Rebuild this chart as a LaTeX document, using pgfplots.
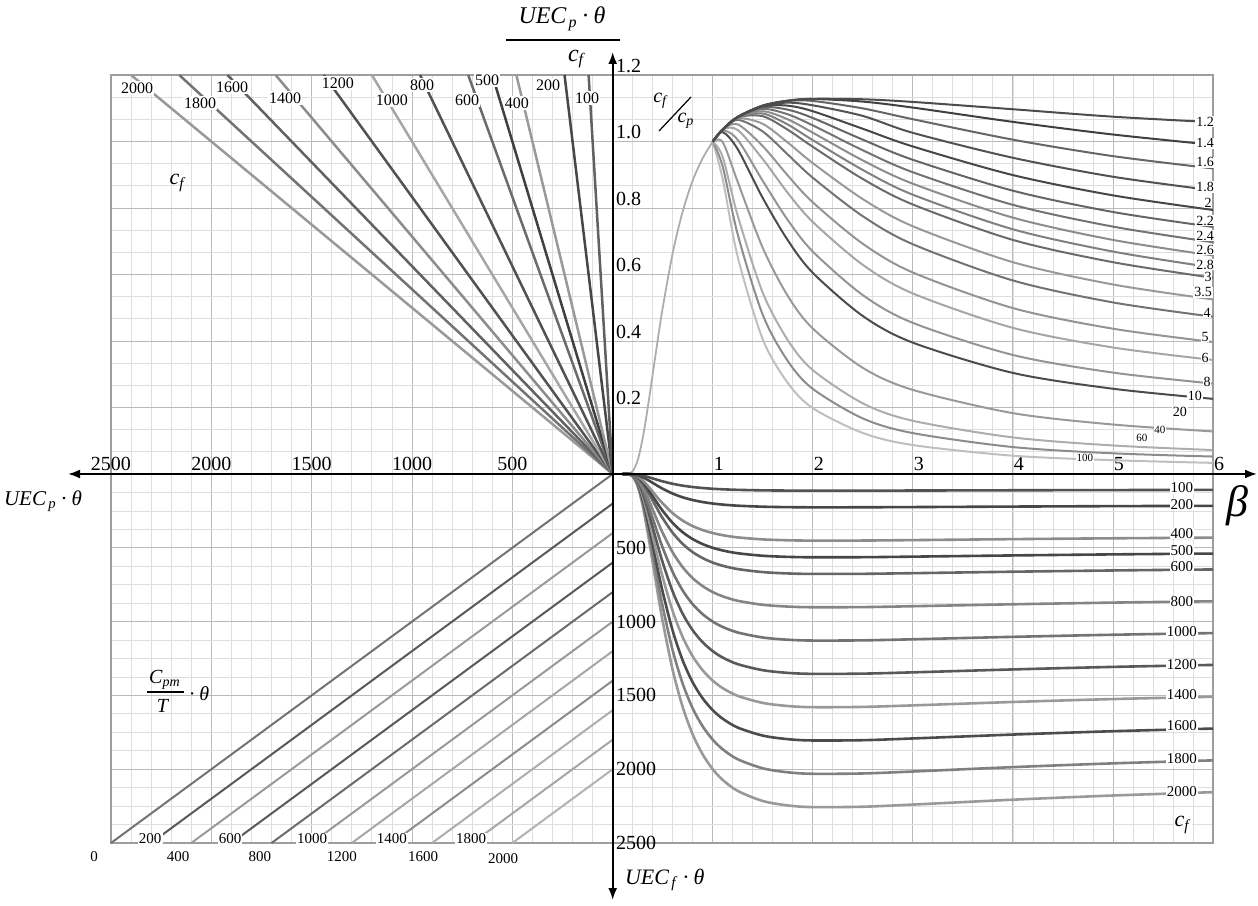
\documentclass[border=0pt]{standalone}
\usepackage{fontspec}
\setmainfont{Liberation Serif}
\usepackage{pgfplots}
\usepackage{pgfplotstable}
\pgfplotsset{compat=1.18}
\usetikzlibrary{arrows.meta}

\pgfplotsset{
 quad/.style={
  scale only axis, clip=false,
  axis line style={draw=black!38, line width=0.9pt},
  grid=both,
  major grid style={draw=black!27, line width=0.45pt},
  minor grid style={draw=black!13, line width=0.4pt},
  major tick length=0pt, minor tick length=0pt,
  ticklabel style={font=\fontsize{10}{10}\selectfont},
  /pgf/number format/assume math mode=true,
  /pgf/number format/1000 sep={},
 },
 trc/.style={smooth, no marks, line width=1pt, draw=black!#1},
 brc/.style={smooth, no marks, line width=1.3pt, draw=black!#1},
 tll/.style={no marks, line width=1.25pt, draw=black!#1},
 bll/.style={no marks, line width=1pt, draw=black!#1},
}
\tikzset{
 lt/.style={fill=white, inner sep=0.4pt, font=\fontsize{7}{7}\selectfont},
 ls/.style={fill=white, inner sep=0.3pt, font=\fontsize{5.5}{5.5}\selectfont},
 lb/.style={fill=white, inner sep=0.3pt, font=\fontsize{7.5}{7.5}\selectfont},
 ll/.style={fill=white, inner sep=0.6pt, font=\fontsize{8}{8}\selectfont},
 lbl/.style={fill=white, inner sep=0.6pt, font=\fontsize{7.5}{7.5}\selectfont},
}
\newcommand{\UEC}[1]{\textit{UEC}\kern1pt\textsubscript{\textit{#1}}\kern2pt·\kern2pt\textit{θ}}

% c_f/c_p = r curves, UEC_p theta / c_f versus beta
\pgfplotstableread{
b    r12    r14    r16    r18    r20    r22    r24    r26    r28    r30    r35    r40   r50    r60    r80    r100   r200   r400   r600   r1000
1    1      1      1      1      1      1      1      1      1      1      1      1     1      1      1      1      1      1      1      1
1.1  1.036  1.036  1.036  1.036  1.036  1.036  1.036  1.036  1.036  1.036  1.036  1.036 1.036  1.036  1.033  1.028  0.998  0.953  0.924  0.886
1.25 1.0737 1.0737 1.0737 1.0737 1.0736 1.0736 1.0735 1.0735 1.0733 1.0727 1.0699 1.065 1.0516 1.0345 1.0049 0.9767 0.878  0.7765 0.720  0.6525
1.5  1.1077 1.1077 1.1077 1.1074 1.106  1.103  1.098  1.091  1.084  1.076  1.053  1.030 0.986  0.947  0.8815 0.830  0.680  0.545  0.4785 0.405
1.75 1.1228 1.1228 1.1216 1.1168 1.1078 1.0957 1.0817 1.0666 1.051  1.0353 0.9968 0.9609 0.8978 0.8453 0.7637 0.703 0.5354 0.4026 0.3397 0.2738
2    1.1284 1.1278 1.1219 1.1088 1.091  1.0707 1.0485 1.0265 1.004  0.984  0.935  0.891 0.817  0.758  0.669  0.605  0.4375 0.3125 0.256  0.198
2.5  1.127  1.120  1.0995 1.0769 1.0382 1.0055 0.9736 0.9431 0.9143 0.8872 0.8267 0.7752 0.6924 0.629 0.538  0.4751 0.3192 0.2125 0.1671 0.1233
3    1.119  1.102  1.067  1.026  0.985  0.945  0.9075 0.873  0.840  0.8105 0.745  0.691 0.606  0.543  0.4545 0.395  0.253  0.160  0.123  0.087
4    1.097  1.059  1.0055 0.951  0.899  0.852  0.8095 0.771  0.736  0.704  0.637  0.582 0.499  0.4395 0.358  0.304  0.183  0.110  0.081  0.055
5    1.0746 1.021  0.956  0.894  0.838  0.788  0.744  0.704  0.669  0.637  0.570  0.516 0.437  0.3805 0.305  0.2564 0.1488 0.0858 0.0622 0.0414
6    1.058  0.990  0.919  0.853  0.794  0.743  0.697  0.657  0.621  0.590  0.525  0.473 0.397  0.343  0.272  0.226  0.128  0.072  0.0525 0.0335
}\trdata

% UEC_f theta versus beta for c_f
\pgfplotstableread{
b    c100   c200   c400  c500  c600  c800  c1000  c1200  c1400  c1600  c1800  c2000
0.1  0      0      0     0     0     0     0      0      0      0      0      0
0.15 0.04   0.08   0.15  0.19  0.23  0.31  0.39   0.46   0.54   0.62   0.69   0.77
0.2  0.83   1.67   3.33  4.17  5.0   6.66  8.33   10.0   11.7   13.3   15.0   16.7
0.25 4.17   8.33   16.67 20.8  25.0  33.3  41.7   50.0   58.3   66.7   75.0   83.3
0.3  10.8   21.6   43.2  54.0  64.8  86.4  108    129.6  151.2  172.8  194.4  216
0.35 19.89  39.78  79.56 99.45 119.3 159.1 198.9  238.7  278.5  318.2  358.0  397.8
0.4  30.09  60.18  120.4 150.5 180.5 240.7 300.9  361.1  421.3  481.4  541.6  601.8
0.45 40.34  80.68  161.4 201.7 242.0 322.7 403.4  484.1  564.8  645.4  726.1  806.8
0.5  50     100    200   250   300   400   500    600    700    800    900    1000
0.6  66.46  132.9  265.8 332.3 398.8 531.7 664.6  797.5  930.4  1063.4 1196.3 1329.2
0.7  78.98  157.96 315.9 394.9 473.9 631.8 789.8  947.8  1105.7 1263.7 1421.6 1579.6
0.8  88.26  176.5  353.0 441.3 529.6 706.1 882.6  1059.1 1235.6 1412.2 1588.7 1765.2
0.9  95.03  190.1  380.1 475.2 570.2 760.2 950.3  1140.4 1330.4 1520.5 1710.5 1900.6
1    100    200    400   500   600   800   1000   1200   1400   1600   1800   2000
1.1  103.64 207.3  414.6 518.2 621.8 829.1 1036.4 1243.7 1451.0 1658.2 1865.5 2072.8
1.25 107.37 214.7  429.5 536.9 644.2 859.0 1073.7 1288.4 1503.2 1717.9 1932.7 2147.4
1.5  110.77 221.5  443.1 553.9 664.6 886.2 1107.7 1329.2 1550.8 1772.3 1993.9 2215.4
1.75 112.28 224.6  449.1 561.4 673.7 898.2 1122.8 1347.4 1571.9 1796.5 2021.0 2245.6
2    112.84 225.7  451.4 564.2 677.0 902.7 1128.4 1354.1 1579.8 1805.4 2031.1 2256.8
2.5  112.71 225.4  450.8 563.6 676.3 901.7 1127.1 1352.5 1577.9 1803.4 2028.8 2254.2
3    111.98 224.0  447.9 559.9 671.9 895.8 1119.8 1343.8 1567.7 1791.7 2015.6 2239.6
4    110.33 220.7  441.3 551.7 662.0 882.6 1103.3 1324.0 1544.6 1765.3 1985.9 2206.6
5    108.91 217.8  435.6 544.6 653.5 871.3 1089.1 1306.9 1524.7 1742.6 1960.4 2178.2
6    107.79 215.6  431.2 539.0 646.7 862.3 1077.9 1293.5 1509.1 1724.6 1940.2 2155.8
}\brdata

\begin{document}
\begin{tikzpicture}
\path[use as bounding box] (0,0) rectangle (629pt,452.5pt);

% ---------------- top right ----------------
\begin{axis}[quad, at={(306.35pt,215.5pt)}, anchor=origin,
  width=300.15pt, height=199.5pt,
  xmin=0, xmax=6, ymin=0, ymax=1.2,
  xtick={1,2,3,4,5,6}, minor xtick={0.2,0.4,...,5.9},
  ytick={0.2,0.4,0.6,0.8,1.0,1.2}, yticklabels={0.2,0.4,0.6,0.8,1.0,1.2},
  minor ytick={0.0667,0.1333,0.2667,0.3333,0.4667,0.5333,0.6667,0.7333,0.8667,0.9333,1.0667,1.1333},
  xticklabel style={anchor=south, xshift=3pt, inner sep=1.5pt},
  yticklabel style={anchor=south west, inner sep=1pt, xshift=0.5pt},
]
\addplot[smooth, no marks, line width=0.9pt, draw=black!32] coordinates {
 (0,0) (0.1,0) (0.15,0.0004) (0.2,0.0083) (0.25,0.0417) (0.3,0.108) (0.35,0.199)
 (0.4,0.301) (0.45,0.403) (0.5,0.5) (0.6,0.665) (0.7,0.790) (0.8,0.883) (0.9,0.950) (1,1)};
\addplot[trc=25] table[x=b,y=r1000] {\trdata};
\addplot[trc=45] table[x=b,y=r600] {\trdata};
\addplot[trc=32] table[x=b,y=r400] {\trdata};
\addplot[trc=40] table[x=b,y=r200] {\trdata};
\addplot[trc=70] table[x=b,y=r100] {\trdata};
\addplot[trc=42] table[x=b,y=r80] {\trdata};
\addplot[trc=35] table[x=b,y=r60] {\trdata};
\addplot[trc=42] table[x=b,y=r50] {\trdata};
\addplot[trc=55] table[x=b,y=r40] {\trdata};
\addplot[trc=40] table[x=b,y=r35] {\trdata};
\addplot[trc=58] table[x=b,y=r30] {\trdata};
\addplot[trc=50] table[x=b,y=r28] {\trdata};
\addplot[trc=45] table[x=b,y=r26] {\trdata};
\addplot[trc=55] table[x=b,y=r24] {\trdata};
\addplot[trc=60] table[x=b,y=r22] {\trdata};
\addplot[trc=72] table[x=b,y=r20] {\trdata};
\addplot[trc=68] table[x=b,y=r18] {\trdata};
\addplot[trc=60] table[x=b,y=r16] {\trdata};
\addplot[trc=75] table[x=b,y=r14] {\trdata};
\addplot[trc=70] table[x=b,y=r12] {\trdata};
\node[lt] at (axis cs:5.92,1.059) {1.2};
\node[lt] at (axis cs:5.92,0.995) {1.4};
\node[lt] at (axis cs:5.92,0.938) {1.6};
\node[lt] at (axis cs:5.92,0.863) {1.8};
\node[lt] at (axis cs:5.95,0.815) {2};
\node[lt] at (axis cs:5.92,0.761) {2.2};
\node[lt] at (axis cs:5.92,0.716) {2.4};
\node[lt] at (axis cs:5.92,0.674) {2.6};
\node[lt] at (axis cs:5.92,0.629) {2.8};
\node[lt] at (axis cs:5.95,0.592) {3};
\node[lt] at (axis cs:5.90,0.547) {3.5};
\node[lt] at (axis cs:5.94,0.484) {4};
\node[lt] at (axis cs:5.92,0.412) {5};
\node[lt] at (axis cs:5.92,0.349) {6};
\node[lt] at (axis cs:5.94,0.277) {8};
\node[lt] at (axis cs:5.82,0.235) {10};
\node[lt] at (axis cs:5.67,0.186) {20};
\node[ls] at (axis cs:5.47,0.132) {40};
\node[ls] at (axis cs:5.29,0.108) {60};
\node[ls] at (axis cs:4.72,0.048) {100};
\end{axis}

% ---------------- top left ----------------
\begin{axis}[quad, at={(306.35pt,215.5pt)}, anchor=origin,
  width=250.85pt, height=199.5pt,
  xmin=0, xmax=2500, x dir=reverse, ymin=0, ymax=1.2,
  xtick={500,1000,1500,2000,2500}, minor xtick={100,200,...,2400},
  ytick={0.2,0.4,0.6,0.8,1.0,1.2}, yticklabels={},
  minor ytick={0.0667,0.1333,0.2667,0.3333,0.4667,0.5333,0.6667,0.7333,0.8667,0.9333,1.0667,1.1333},
  xticklabel style={anchor=south, inner sep=1.5pt},
]
\addplot[tll=40] coordinates {(0,0) (2400,1.2)};
\addplot[tll=55] coordinates {(0,0) (2160,1.2)};
\addplot[tll=62] coordinates {(0,0) (1920,1.2)};
\addplot[tll=45] coordinates {(0,0) (1680,1.2)};
\addplot[tll=68] coordinates {(0,0) (1440,1.2)};
\addplot[tll=35] coordinates {(0,0) (1200,1.2)};
\addplot[tll=68] coordinates {(0,0) (960,1.2)};
\addplot[tll=58] coordinates {(0,0) (720,1.2)};
\addplot[tll=75] coordinates {(0,0) (600,1.2)};
\addplot[tll=40] coordinates {(0,0) (480,1.2)};
\addplot[tll=72] coordinates {(0,0) (240,1.2)};
\addplot[tll=62] coordinates {(0,0) (120,1.2)};
\node[ll] at (axis cs:2370,1.161) {2000};
\node[ll] at (axis cs:2056,1.116) {1800};
\node[ll] at (axis cs:1896,1.164) {1600};
\node[ll] at (axis cs:1632,1.131) {1400};
\node[ll] at (axis cs:1369,1.176) {1200};
\node[ll] at (axis cs:1100,1.125) {1000};
\node[ll] at (axis cs:950,1.170) {800};
\node[ll] at (axis cs:726,1.125) {600};
\node[ll] at (axis cs:626,1.185) {500};
\node[ll] at (axis cs:477,1.116) {400};
\node[ll] at (axis cs:322,1.170) {200};
\node[ll] at (axis cs:128,1.131) {100};
\end{axis}

% ---------------- bottom right ----------------
\begin{axis}[quad, at={(306.35pt,215.5pt)}, anchor=origin,
  width=300.15pt, height=184.5pt,
  xmin=0, xmax=6, ymin=0, ymax=2500, y dir=reverse,
  xtick={1,2,3,4,5,6}, xticklabels={}, minor xtick={0.2,0.4,...,5.9},
  ytick={500,1000,1500,2000,2500}, minor ytick={125,250,...,2400},
  yticklabel style={anchor=west, inner sep=1pt, xshift=0.5pt},
]
\addplot[brc=40] table[x=b,y=c2000] {\brdata};
\addplot[brc=50] table[x=b,y=c1800] {\brdata};
\addplot[brc=70] table[x=b,y=c1600] {\brdata};
\addplot[brc=40] table[x=b,y=c1400] {\brdata};
\addplot[brc=65] table[x=b,y=c1200] {\brdata};
\addplot[brc=55] table[x=b,y=c1000] {\brdata};
\addplot[brc=48] table[x=b,y=c800] {\brdata};
\addplot[brc=60] table[x=b,y=c600] {\brdata};
\addplot[brc=72] table[x=b,y=c500] {\brdata};
\addplot[brc=45] table[x=b,y=c400] {\brdata};
\addplot[brc=72] table[x=b,y=c200] {\brdata};
\addplot[brc=68] table[x=b,y=c100] {\brdata};
\node[lb] at (axis cs:5.69,95) {100};
\node[lb] at (axis cs:5.69,205) {200};
\node[lb] at (axis cs:5.69,405) {400};
\node[lb] at (axis cs:5.69,522) {500};
\node[lb] at (axis cs:5.69,630) {600};
\node[lb] at (axis cs:5.69,862) {800};
\node[lb] at (axis cs:5.69,1065) {1000};
\node[lb] at (axis cs:5.69,1290) {1200};
\node[lb] at (axis cs:5.69,1495) {1400};
\node[lb] at (axis cs:5.69,1705) {1600};
\node[lb] at (axis cs:5.69,1930) {1800};
\node[lb] at (axis cs:5.69,2150) {2000};
\node[font=\fontsize{11}{11}\selectfont, fill=white, inner sep=0.5pt] at (axis cs:5.70,2378) {\textit{c}\textsubscript{\textit{f}}};
\end{axis}

% ---------------- bottom left ----------------
\begin{axis}[quad, at={(306.35pt,215.5pt)}, anchor=origin,
  width=250.85pt, height=184.5pt,
  xmin=0, xmax=2500, x dir=reverse, ymin=0, ymax=2500, y dir=reverse,
  xtick={500,1000,1500,2000,2500}, xticklabels={}, minor xtick={100,200,...,2400},
  ytick={500,1000,1500,2000,2500}, yticklabels={}, minor ytick={125,250,...,2400},
]
\addplot[bll=55] coordinates {(0,0) (2500,2500)};
\addplot[bll=65] coordinates {(0,200) (2300,2500)};
\addplot[bll=40] coordinates {(0,400) (2100,2500)};
\addplot[bll=65] coordinates {(0,600) (1900,2500)};
\addplot[bll=58] coordinates {(0,800) (1700,2500)};
\addplot[bll=40] coordinates {(0,1000) (1500,2500)};
\addplot[bll=35] coordinates {(0,1200) (1300,2500)};
\addplot[bll=45] coordinates {(0,1400) (1100,2500)};
\addplot[bll=32] coordinates {(0,1600) (900,2500)};
\addplot[bll=35] coordinates {(0,1800) (700,2500)};
\addplot[bll=30] coordinates {(0,2000) (500,2500)};
\node[lbl] at (axis cs:2584,2595) {0};
\node[lbl] at (axis cs:2305,2473) {200};
\node[lbl] at (axis cs:2166,2595) {400};
\node[lbl] at (axis cs:1907,2473) {600};
\node[lbl] at (axis cs:1758,2595) {800};
\node[lbl] at (axis cs:1498,2473) {1000};
\node[lbl] at (axis cs:1349,2595) {1200};
\node[lbl] at (axis cs:1100,2473) {1400};
\node[lbl] at (axis cs:945,2595) {1600};
\node[lbl] at (axis cs:706,2473) {1800};
\node[lbl] at (axis cs:546,2608) {2000};
\end{axis}

% ---------------- axes and titles (pixel coordinates) ----------------
\begin{scope}[x=0.5pt, y=-0.5pt, yshift=452.5pt]
\draw[line width=1pt, {Latex[length=6pt,width=4.5pt]}-{Latex[length=6pt,width=4.5pt]}] (68,474) -- (1257,474);
\draw[line width=1pt, {Latex[length=6pt,width=4.5pt]}-{Latex[length=6pt,width=4.5pt]}] (612.7,52) -- (612.7,900);
% top fraction
\node[font=\fontsize{12}{12}\selectfont] at (562,19) {\UEC{p}};
\draw[line width=0.8pt] (506,40) -- (620,40);
\node[font=\fontsize{12}{12}\selectfont] at (577,59) {\textit{c}\textsubscript{\textit{f}}};
% c_f / c_p
\node[font=\fontsize{10}{10}\selectfont] at (661,101) {\textit{c}\textsubscript{\textit{f}}};
\node[font=\fontsize{10}{10}\selectfont] at (686,121) {\textit{c}\textsubscript{\textit{p}}};
\draw[line width=0.6pt] (659,131) -- (691,97);
% left / bottom / right axis labels
\node[font=\fontsize{10.5}{10.5}\selectfont] at (43,501) {\UEC{p}};
\node[font=\fontsize{11}{11}\selectfont, anchor=west] at (618,880) {\UEC{f}};
\node[font=\fontsize{22}{22}\selectfont] at (1237,506) {\textit{β}};
% quadrant labels
\node[font=\fontsize{11}{11}\selectfont] at (178,183) {\textit{c}\textsubscript{\textit{f}}};
\node[font=\fontsize{10}{10}\selectfont] at (165,680) {\textit{C}\textsubscript{\textit{pm}}};
\draw[line width=0.6pt] (147,692) -- (184,692);
\node[font=\fontsize{10}{10}\selectfont] at (163,706) {\textit{T}};
\node[font=\fontsize{10}{10}\selectfont] at (199,694) {·\kern2pt\textit{θ}};
\end{scope}
\end{tikzpicture}
\end{document}
